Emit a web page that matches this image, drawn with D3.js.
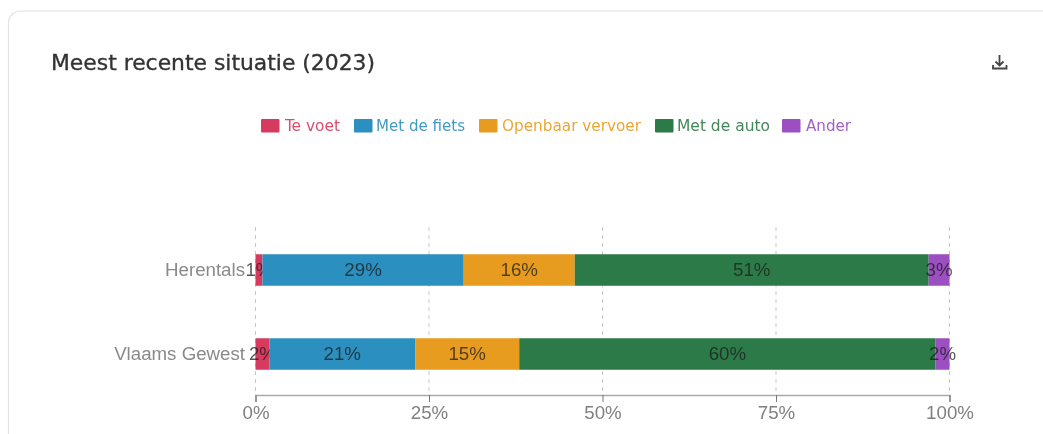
<!DOCTYPE html>
<html><head><meta charset="utf-8">
<style>html,body{margin:0;padding:0;background:#fff;overflow:hidden}svg{display:block;filter:blur(0.4px)}</style>
<script src="https://cdn.jsdelivr.net/npm/d3@7/dist/d3.min.js"></script>
</head><body><svg id="c" width="1043" height="434"></svg>
<script>
const categories = ["Herentals", "Vlaams Gewest"];
const seriesNames = ["Te voet", "Met de fiets", "Openbaar vervoer", "Met de auto", "Ander"];
const seriesColors = ["#d63a5e", "#2b8fbf", "#e89c1f", "#2c7a47", "#9b4fc0"];
const teVoet = [1, 2];
const metDeFiets = [29, 21];
const openbaarVervoer = [16, 15];
const metDeAuto = [51, 60];
const ander = [3, 2];
const tickValues = [0, 25, 50, 75, 100];
const seriesValues = [teVoet, metDeFiets, openbaarVervoer, metDeAuto, ander];

const svg = d3.select("#c");
const uiFont = "'DejaVu Sans Condensed', 'DejaVu Sans', sans-serif";
const chartFont = "'Liberation Sans', Arial, sans-serif";

svg.append("path").attr("d", "M8.5 434V23a12 12 0 0 1 12-12H1043")
  .attr("fill", "none").attr("stroke", "#e2e2e2").attr("stroke-width", 1.2);

svg.append("text").attr("x", 51).attr("y", 70).text("Meest recente situatie (2023)")
  .attr("font-family", uiFont).attr("font-size", 21).attr("font-weight", 500).attr("fill", "#333")
  .attr("stroke", "#333").attr("stroke-width", 0.3)
  .attr("textLength", 324).attr("lengthAdjust", "spacingAndGlyphs");

// download icon
const icon = svg.append("g").attr("fill", "none").attr("stroke", "#444").attr("stroke-width", 1.8);
icon.append("path").attr("d", "M999.5 55V65M995.5 61.5l4 4 4-4");
icon.append("path").attr("d", "M993 65v3.5h13.5V65");

// legend
const legendX = [261, 354, 479, 655, 782];
const legendTextX = [24, 22, 23, 22, 24];
const legendW = [55, 89, 139, 93, 45];
const legend = svg.append("g").selectAll("g").data(seriesNames).join("g")
  .attr("transform", (d, i) => `translate(${legendX[i]},119)`);
legend.append("rect").attr("width", 18.5).attr("height", 13.5).attr("rx", 1).attr("fill", (d, i) => seriesColors[i]);
legend.append("text").attr("x", (d, i) => legendTextX[i]).attr("y", 12).text(d => d)
  .attr("font-family", uiFont).attr("font-size", 15.5).attr("fill", (d, i) => seriesColors[i])
  .attr("fill-opacity", 0.9)
  .attr("textLength", (d, i) => legendW[i]).attr("lengthAdjust", "spacingAndGlyphs");

const x = d3.scaleLinear().domain([0, 100]).range([255.5, 949.5]);
const y = d3.scaleBand().domain(categories).range([228, 396]).padding(0.625).paddingOuter(0.3125);

// grid
svg.append("g").selectAll("line").data(tickValues).join("line")
  .attr("x1", d => x(d)).attr("x2", d => x(d)).attr("y1", 227).attr("y2", 395)
  .attr("stroke", "#c8c8c8").attr("stroke-width", 1).attr("stroke-dasharray", "4 4");

// stacked bars
const rows = categories.map((c, i) => {
  const r = {category: c};
  seriesNames.forEach((s, j) => r[s] = seriesValues[j][i]);
  return r;
});
const stacked = d3.stack().keys(seriesNames)(rows);
const layers = svg.append("g").selectAll("g").data(stacked).join("g");
layers.selectAll("rect").data(d => d).join("rect")
  .attr("x", d => x(d[0])).attr("width", d => x(d[1]) - x(d[0]))
  .attr("y", d => y(d.data.category)).attr("height", y.bandwidth())
  .attr("fill", function () { return seriesColors[stacked.indexOf(d3.select(this.parentNode).datum())]; });

// axis
const axis = d3.axisBottom(x).tickValues(tickValues).tickFormat(d => d + "%").tickSize(7).tickPadding(4);
const gx = svg.append("g").attr("transform", "translate(0,395)").call(axis);
gx.select(".domain").attr("stroke", "#aaa").attr("stroke-width", 1.6);
gx.selectAll(".tick line").attr("stroke", "#777");
gx.selectAll("text").attr("font-family", chartFont).attr("font-size", 18.7).attr("fill", "#808080");

// category labels
svg.append("g").selectAll("text").data(categories).join("text")
  .attr("x", 245).attr("y", d => y(d) + y.bandwidth() / 2).attr("dy", "0.3em").attr("text-anchor", "end")
  .text(d => d).attr("font-family", chartFont).attr("font-size", 18.7).attr("fill", "#8a8a8a");

// data labels
layers.selectAll("text").data(d => d).join("text")
  .attr("x", d => x((d[0] + d[1]) / 2)).attr("y", d => y(d.data.category) + y.bandwidth() / 2)
  .attr("dy", "0.3em").attr("text-anchor", "middle").text(d => (d[1] - d[0]) + "%")
  .attr("font-family", chartFont).attr("font-size", 18.7).attr("fill", "#1c1c1c").attr("fill-opacity", 0.75);
</script></body></html>
